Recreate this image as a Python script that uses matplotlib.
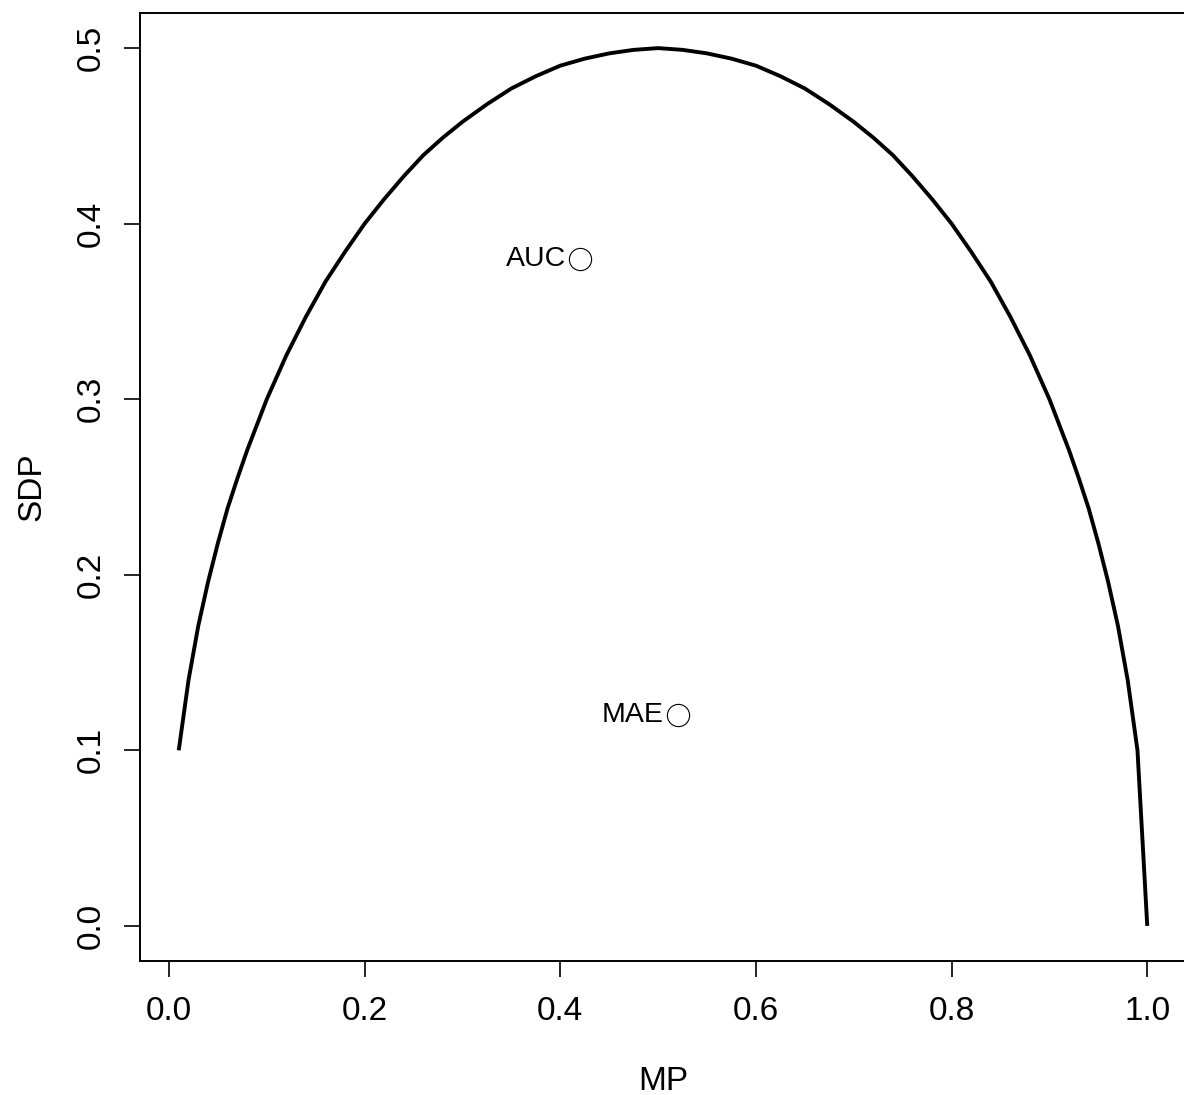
import matplotlib
matplotlib.use("Agg")
import matplotlib.pyplot as plt

# curve (MP vs SDP)
mp = [0.01, 0.02, 0.03, 0.04, 0.05, 0.06, 0.07, 0.08, 0.10, 0.12, 0.14, 0.16, 0.18,
      0.20, 0.22, 0.24, 0.26, 0.28, 0.30, 0.325, 0.35, 0.375, 0.40, 0.425, 0.45,
      0.475, 0.50, 0.525, 0.55, 0.575, 0.60, 0.625, 0.65, 0.675, 0.70, 0.72, 0.74,
      0.76, 0.78, 0.80, 0.82, 0.84, 0.86, 0.88, 0.90, 0.92, 0.93, 0.94, 0.95, 0.96,
      0.97, 0.98, 0.99, 1.00]
sdp = [0.100, 0.140, 0.171, 0.196, 0.218, 0.238, 0.255, 0.271, 0.300, 0.325, 0.347,
       0.367, 0.384, 0.400, 0.414, 0.427, 0.439, 0.449, 0.458, 0.468, 0.477, 0.484,
       0.490, 0.494, 0.497, 0.499, 0.500, 0.499, 0.497, 0.494, 0.490, 0.484, 0.477,
       0.468, 0.458, 0.449, 0.439, 0.427, 0.414, 0.400, 0.384, 0.367, 0.347, 0.325,
       0.300, 0.271, 0.255, 0.238, 0.218, 0.196, 0.171, 0.140, 0.100, 0.000]

# labelled points
point_names = ["AUC", "MAE"]
point_mp = [0.42, 0.52]
point_sdp = [0.38, 0.12]

xticks = [0.0, 0.2, 0.4, 0.6, 0.8, 1.0]
yticks = [0.0, 0.1, 0.2, 0.3, 0.4, 0.5]

plt.rcParams['font.family'] = ['Liberation Sans', 'DejaVu Sans']

W, H = 1184, 1095
fig = plt.figure(figsize=(W / 100, H / 100), dpi=100)
left, right, top, bottom = 140, 1186, 13, 961
ax = fig.add_axes([left / W, 1 - bottom / H, (right - left) / W, (bottom - top) / H])

ax.plot(mp, sdp, color="black", linewidth=2.8, solid_capstyle="butt")
ax.plot(point_mp, point_sdp, "o", markersize=16, markerfacecolor="none",
        markeredgecolor="black", markeredgewidth=0.8)
for name, x, y in zip(point_names, point_mp, point_sdp):
    ax.annotate(name, (x, y), xytext=(-10, 0), textcoords="offset points",
                ha="right", va="center", fontsize=20.5)

# R style 4% padding around data range
xr = max(mp) - min(mp)
ax.set_xlim(min(mp) - 0.04 * xr, max(mp) + 0.04 * xr)
ax.set_ylim(-0.02, 0.52)

ax.set_xticks(xticks)
ax.set_xticklabels([f"{v:.1f}" for v in xticks])
ax.set_yticks(yticks)
ax.set_yticklabels([f"{v:.1f}" for v in yticks], rotation=90, va="center")
ax.tick_params(axis="both", length=11.5, width=1.2, labelsize=24)
ax.tick_params(axis="x", pad=13.5)
ax.tick_params(axis="y", pad=12.5)

for s in ax.spines.values():
    s.set_linewidth(1.4)

ax.set_xlabel("MP", fontsize=24)
ax.set_ylabel("SDP", fontsize=24)
ax.xaxis.set_label_coords(0.5, -0.136)
ax.xaxis.label.set_va("baseline")
ax.yaxis.set_label_coords(-0.0956, 0.5)
ax.yaxis.label.set_va("baseline")

fig.savefig("out.png", dpi=100)
